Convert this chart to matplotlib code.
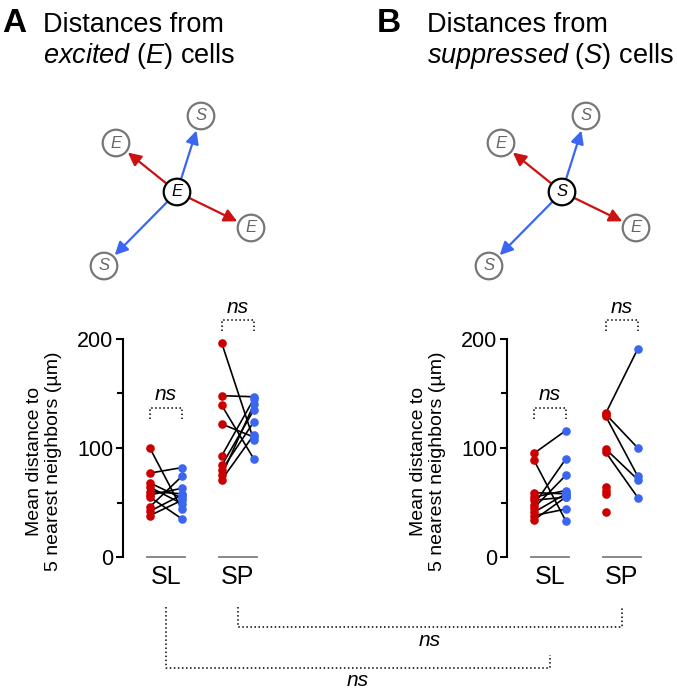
import numpy as np
import matplotlib.pyplot as plt
from matplotlib.patches import Circle, FancyArrowPatch

plt.rcParams['font.family'] = ['Liberation Sans', 'DejaVu Sans']
plt.rcParams['mathtext.fontset'] = 'custom'
plt.rcParams['mathtext.rm'] = 'Liberation Sans'
plt.rcParams['mathtext.it'] = 'Liberation Sans:italic'

# data (um); E = excited (red), S = suppressed (blue)
groups = ['SL', 'SP']
A_SL_E = [100, 77, 68, 64, 60, 57, 55, 46, 42, 38]
A_SL_S = [44, 82, 54, 49, 58, 63, 35, 74, 57, 52]
A_SP_E = [196, 148, 139, 122, 93, 84, 80, 75, 71]
A_SP_S = [107, 147, 90, 110, 145, 135, 124, 140, 112]
B_SL_E = [95, 89, 59, 55, 52, 48, 45, 41, 38, 34]
B_SL_S = [116, 33, 58, 61, 55, 90, 75, 58, 44, 55]
B_SP_E = [132, 131, 129, 99, 96, 64, 61, 58, 41]
B_SP_S = [191, 100, 74, 71, 54.5, np.nan, np.nan, np.nan, np.nan]

RED = '#cc0000'
BLUE = '#3a66f2'
W, H = 677, 690

fig = plt.figure(figsize=(W / 100, H / 100), dpi=100)
ov = fig.add_axes([0, 0, 1, 1])
ov.set_xlim(0, W)
ov.set_ylim(H, 0)
ov.axis('off')

xpos = {'SL': (0.0, 1.0), 'SP': (2.25, 3.25)}


def panel(ax, data):
    for g, (e, s) in zip(groups, data):
        xe, xs = xpos[g]
        e = np.asarray(e, float)
        s = np.asarray(s, float)
        for ev, sv in zip(e, s):
            if not np.isnan(sv):
                ax.plot([xe, xs], [ev, sv], color='black', lw=1.2, zorder=2)
        ax.plot(np.full(len(e), xe), e, 'o', color=RED, ms=6.2, mec='none', zorder=3, clip_on=False)
        ax.plot(np.full(len(s), xs), s, 'o', color=BLUE, ms=6.2, mec='none', zorder=3, clip_on=False)
        ax.plot([xe - 0.1, xs + 0.1], [0, 0], color='#7f7f7f', lw=1.3, clip_on=False, zorder=1)
        # ns bracket above each pair
        yb = 137 if g == 'SL' else 217
        ax.plot([xe, xe, xs, xs], [yb - 10, yb, yb, yb - 10], color='black', ls=':', lw=1.1, clip_on=False)
        ax.text((xe + xs) / 2, yb + 3, 'ns', style='italic', fontsize=15, ha='center', va='bottom')
    ax.set_xlim(-0.84, 3.6)
    ax.set_ylim(0, 200)
    for sp in ['top', 'right', 'bottom']:
        ax.spines[sp].set_visible(False)
    ax.spines['left'].set_linewidth(1.5)
    ax.set_yticks([0, 100, 200])
    ax.set_yticks([50, 150], minor=True)
    ax.tick_params(axis='y', which='major', length=5, width=1.5, labelsize=15.5, pad=2)
    ax.tick_params(axis='y', which='minor', length=4, width=1.5)
    ax.set_xticks([np.mean(xpos[g]) for g in groups], groups)
    ax.tick_params(axis='x', length=0, labelsize=18, pad=6)
    ax.set_ylabel('Mean distance to\n5 nearest neighbors (µm)', fontsize=14, linespacing=1.15)
    ax.yaxis.set_label_coords(-0.43, 0.44)
    ax.patch.set_alpha(0)


axw = 142 / W
axh = 218 / H
ax_a = fig.add_axes([123 / W, 133 / H, axw, axh])
ax_b = fig.add_axes([507 / W, 133 / H, axw, axh])
panel(ax_a, [(A_SL_E, A_SL_S), (A_SP_E, A_SP_S)])
panel(ax_b, [(B_SL_E, B_SL_S), (B_SP_E, B_SP_S)])

# titles
ov.text(2, 32, 'A', fontsize=24, fontweight='bold', va='baseline')
ov.text(43, 32, 'Distances from', fontsize=19.5, va='baseline')
ov.text(43, 63, r'$\mathit{excited}$ ($\mathit{E}$) cells', fontsize=19.5, va='baseline')
ov.text(377, 32, 'B', fontsize=24, fontweight='bold', va='baseline')
ov.text(427, 32, 'Distances from', fontsize=19.5, va='baseline')
ov.text(427, 63, r'$\mathit{suppressed}$ ($\mathit{S}$) cells', fontsize=19.5, va='baseline')

# schematic of neighbours around the centre cell
neigh = [((24, -76), 'S', BLUE), ((-61, -49), 'E', '#cc1111'),
         ((74, 36), 'E', '#cc1111'), ((-73, 74), 'S', BLUE)]


def diagram(cx, cy, lbl):
    for (dx, dy), t, c in neigh:
        ox, oy = cx + dx, cy + dy
        ov.add_patch(FancyArrowPatch((cx, cy), (ox, oy), arrowstyle='-|>,head_length=0.6,head_width=0.3',
                                     mutation_scale=13, color=c, lw=1.6, shrinkA=0, shrinkB=11, zorder=2))
        ov.add_patch(Circle((ox, oy), 13.3, fc='white', ec='#777777', lw=1.6, zorder=3))
        ov.text(ox, oy, t, style='italic', fontsize=12, color='#666666', ha='center', va='center', zorder=4)
    ov.add_patch(Circle((cx, cy), 13.3, fc='white', ec='black', lw=1.6, zorder=3))
    ov.text(cx, cy, lbl, style='italic', fontsize=12, color='black', ha='center', va='center', zorder=4)


diagram(177, 192, 'E')
diagram(562, 192, 'S')

# comparison brackets between panels, anchored on the group centres
fig.canvas.draw()
to_ov = ov.transData.inverted()


def px(ax, x):
    return to_ov.transform(ax.transData.transform((x, 0)))[0]


for g, y0, y1, y_right, y_txt in [('SP', 607, 627, 607, 641), ('SL', 607, 668, 655, 681)]:
    xl = px(ax_a, np.mean(xpos[g]))
    xr = px(ax_b, np.mean(xpos[g]))
    ov.plot([xl, xl, xr, xr], [y0, y1, y1, y_right], color='black', ls=':', lw=1.1)
    ov.text((xl + xr) / 2, y_txt, 'ns', style='italic', fontsize=15, ha='center', va='center')

fig.savefig('out.png', dpi=100)
